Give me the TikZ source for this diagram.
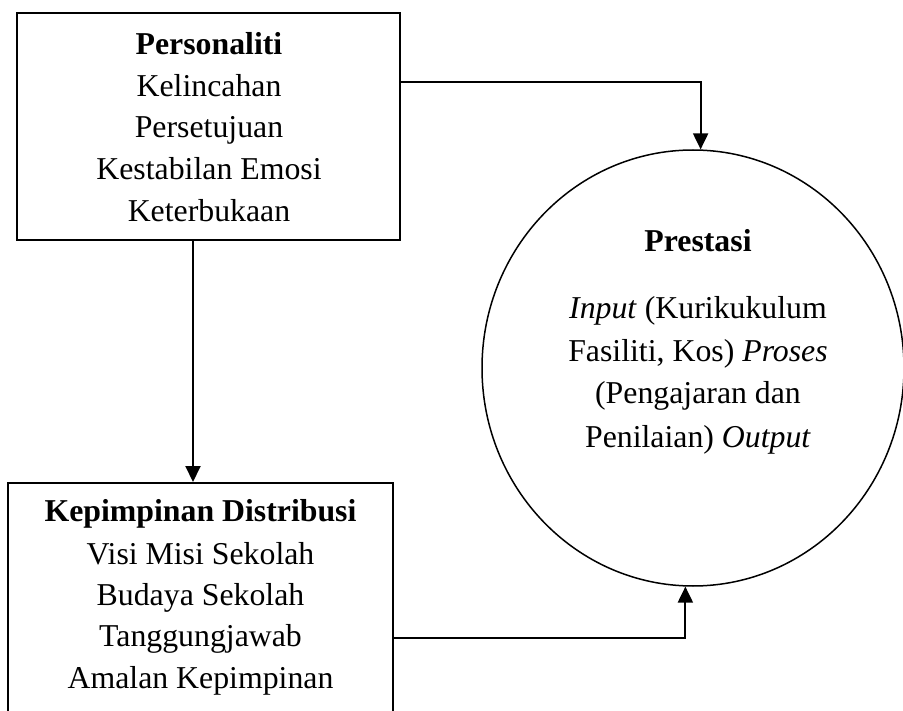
\documentclass[tikz,border=0pt]{standalone}
\usepackage{fontspec}
\setmainfont{Liberation Serif}
\usetikzlibrary{arrows.meta,shapes.geometric}
\begin{document}
\begin{tikzpicture}[x=1pt,y=-1pt,
  boxnode/.style={draw,line width=2pt,rectangle,inner sep=0pt},
  txt/.style={font=\fontsize{31.8}{42}\selectfont,inner sep=0pt,anchor=base},
  conn/.style={line width=2pt,-{Triangle[length=16pt,width=15pt]}}]
\useasboundingbox (0,0) rectangle (903,711);
\clip (0,0) rectangle (903,711);
% boxes
\node[boxnode,minimum width=383pt,minimum height=227pt] (top) at (208.5,126.5) {};
\node[boxnode,minimum width=385pt,minimum height=242pt] (bot) at (200.5,604) {};
\node[draw,ellipse,line width=1.5pt,minimum width=422pt,minimum height=436pt,inner sep=0pt] (circ) at (693,368) {};
% top box text
\node[txt] (t1) at (209,54.3) {\textbf{Personaliti}};
\node[txt] (t2) at (209,96.7) {Kelincahan};
\node[txt] (t3) at (209,138) {Persetujuan};
\node[txt] (t4) at (209,180) {Kestabilan Emosi};
\node[txt] (t5) at (209,221.7) {Keterbukaan};
% bottom box text
\node[txt] (b1) at (200.5,521.7) {\textbf{Kepimpinan Distribusi}};
\node[txt] (b2) at (200.5,564) {Visi Misi Sekolah};
\node[txt] (b3) at (200.5,605.7) {Budaya Sekolah};
\node[txt] (b4) at (200.5,646.7) {Tanggungjawab};
\node[txt] (b5) at (200.5,688.3) {Amalan Kepimpinan};
% circle text
\node[txt] (c1) at (698,252) {\textbf{Prestasi}};
\node[txt] (c2) at (698,318.5) {\textit{Input} (Kurikukulum};
\node[txt] (c3) at (698,362) {Fasiliti, Kos) \textit{Proses}};
\node[txt] (c4) at (698,404) {(Pengajaran dan};
\node[txt] (c5) at (698,447.5) {Penilaian) \textit{Output}};
% connectors
\coordinate (j1) at (0,82);
\coordinate (j2) at (193,0);
\coordinate (j3) at (0,638);
\draw[conn] (top.east |- j1) -| (circ.88.16);
\draw[conn] (top.south -| j2) -- (bot.north -| j2);
\draw[conn] (bot.east |- j3) -| (circ.268.95);
\end{tikzpicture}
\end{document}
